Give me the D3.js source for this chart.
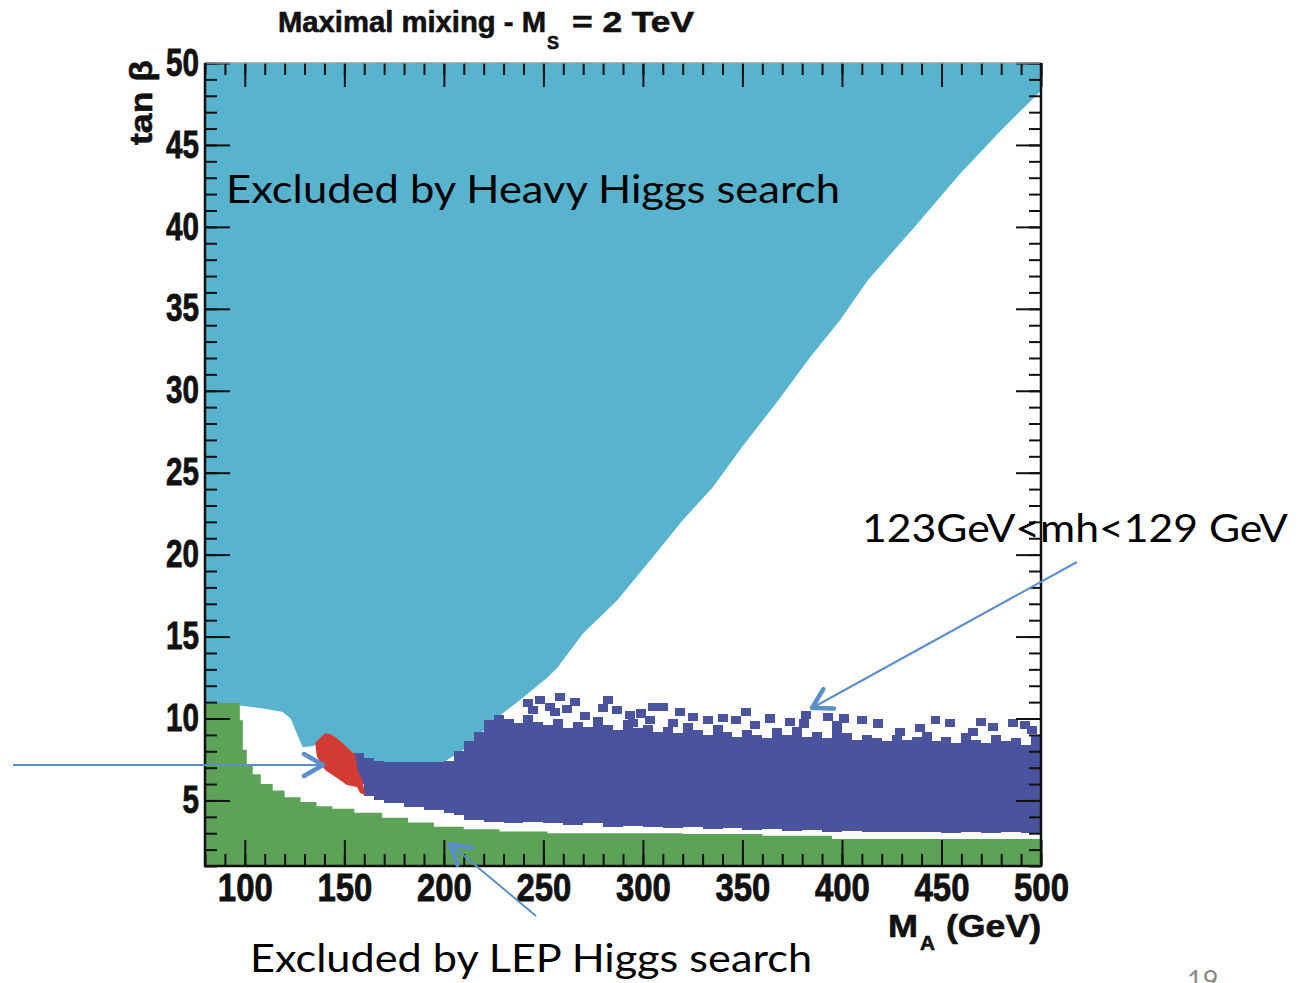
<!DOCTYPE html>
<html>
<head>
<meta charset="utf-8">
<script src="https://cdn.jsdelivr.net/npm/d3@7"></script>
<style>
body { margin: 0; background: #fff; }
</style>
</head>
<body>
<div id="chart"></div>
<script>
// lower edge of the heavy Higgs exclusion (M_A in GeV, tan beta)
const heavyMA = [80, 96, 97, 110, 119, 123, 129, 134, 140, 146, 151, 155.4, 166, 200, 212, 225, 238, 252, 257, 270, 287, 304, 320, 335, 350, 367, 384, 399, 413, 438, 459, 480, 500];
const heavyTb = [10.95, 10.95, 10.8, 10.6, 10.4, 10.0, 8.26, 8.3, 8.7, 8.8, 8.26, 7.77, 7.35, 7.35, 8.26, 9.9, 11.1, 12.5, 13.1, 15.2, 17.2, 19.7, 22.1, 24.1, 26.6, 29.25, 32.05, 34.3, 36.75, 40.2, 43.2, 45.9, 48.3];

// upper edge of the LEP exclusion
const lepMA = [80, 97, 97.5, 99, 101, 104, 108, 114, 120, 128, 136, 144, 155, 169, 182, 195, 210, 228, 252, 280, 320, 360, 395, 430, 470, 500];
const lepTb = [10.95, 10.95, 9.9, 8.1, 7.2, 6.6, 6.0, 5.6, 5.2, 4.9, 4.65, 4.5, 4.25, 3.95, 3.65, 3.4, 3.25, 3.1, 3.0, 3.0, 2.95, 2.85, 2.65, 2.65, 2.65, 2.65];

// 123 GeV < mh < 129 GeV band: upper edge (5 GeV cells)
const bandTopMA = d3.range(155, 501, 5);
const bandTop = [7.9, 7.6, 7.4, 7.35, 7.35, 7.35, 7.35, 7.35, 7.35, 7.4, 8.0, 8.6, 9.2, 9.9, 10.2,
  10.0, 9.7, 10.2, 9.8, 9.6, 10.0, 9.4, 9.8, 9.5, 10.1, 9.6, 9.3, 9.9, 9.4, 9.6,
  9.2, 9.5, 9.1, 9.7, 9.3, 9.0, 9.6, 9.2, 8.9, 9.3, 9.0, 8.8, 9.4, 9.0, 9.5,
  8.9, 9.2, 8.8, 9.5, 9.1, 8.7, 9.0, 8.8, 8.6, 9.0, 8.7, 8.9, 9.2, 8.6, 8.9,
  8.5, 9.1, 8.7, 8.5, 9.0, 8.6, 8.8, 8.4, 9.0, 8.6];
// lower edge
const bandBotMA = [155, 160, 165, 170, 180, 190, 200, 205, 210, 220, 230, 240, 250, 260, 270, 280, 290, 300, 310, 320, 330, 340, 350, 360, 370, 380, 390, 400, 410, 420, 430, 440, 450, 460, 470, 480, 490, 500];
const bandBot = [6.0, 5.3, 5.0, 4.85, 4.6, 4.4, 4.25, 4.1, 3.8, 3.7, 3.6, 3.7, 3.6, 3.5, 3.6, 3.4, 3.45, 3.35, 3.3, 3.4, 3.25, 3.3, 3.2, 3.25, 3.15, 3.2, 3.1, 3.15, 3.05, 3.1, 3.05, 3.1, 3.0, 3.05, 3.0, 3.05, 3.0, 3.0];

// scattered band points above the solid edge
const dotMA = [242.3, 248.3, 258.4, 253.4, 255.9, 271, 280, 282.5, 293.6, 295, 303.6, 305, 310, 315.2, 318.7, 332.8, 340.3, 356.4, 374, 393, 397.6, 410, 429, 439.3, 454.4, 465.9, 476, 486, 495.6,
  262, 245, 266, 287, 299, 325, 347, 364, 382, 401, 418, 447, 470, 492, 381, 352];
const dotTb = [10.95, 11.13, 11.31, 10.7, 10.4, 10.15, 10.64, 11.13, 10.2, 9.72, 9.9, 10.7, 10.7, 9.72, 10.4, 9.9, 10.03, 9.6, 9.79, 10.1, 9.6, 9.9, 9.18, 9.4, 9.72, 9.18, 9.48, 9.72, 9.3,
  10.6, 10.5, 11.0, 10.5, 10.3, 10.1, 9.9, 10.0, 10.2, 10.0, 9.7, 9.9, 9.8, 9.6, 9.7, 10.4];

// red patch
const redMA = [140.3, 135.3, 136.3, 140.3, 146.3, 151.3, 156.4, 157.9, 160.4, 158.9, 156.9, 155.4, 151.3, 146.3, 142.8];
const redTb = [9.1, 8.5, 7.65, 6.86, 6.37, 5.94, 5.82, 5.45, 5.33, 6.37, 6.7, 7.77, 8.26, 8.8, 9.05];

// ticks
const xMajor = [100, 150, 200, 250, 300, 350, 400, 450, 500];
const xMinor = d3.range(80, 501, 10);
const yMajor = [5, 10, 15, 20, 25, 30, 35, 40, 45, 50];
const yMinor = d3.range(1, 51, 1);

const W = 1308, H = 983;
const col = {
  heavy: '#58b4ce', band: '#4a539d', lep: '#5ca358', red: '#d33a34', arrow: '#5b8fcc'
};

const x = d3.scaleLinear().domain([80, 500]).range([205, 1041]);
const y = d3.scaleLinear().domain([1, 50]).range([866, 63]);

const svg = d3.select('#chart').append('svg')
  .attr('width', W)
  .attr('height', H)
  .style('font-family', 'Liberation Sans, Arial, sans-serif');

const zip = (a, b) => a.map((v, i) => [v, b[i]]);

// heavy Higgs region (from top down to edge)
svg.append('path')
  .datum(zip(heavyMA, heavyTb))
  .attr('fill', col.heavy)
  .attr('d', d3.area().x(d => x(d[0])).y0(y(50)).y1(d => y(d[1])));

// LEP region
svg.append('path')
  .datum(zip(lepMA, lepTb))
  .attr('fill', col.lep)
  .attr('d', d3.area().x(d => x(d[0])).y0(y(1)).y1(d => y(d[1])).curve(d3.curveStepAfter));

// mh band, drawn as upper and lower halves that overlap in the middle
const band = svg.append('g').attr('fill', col.band).attr('shape-rendering', 'crispEdges');
band.append('path')
  .datum(zip(bandTopMA, bandTop))
  .attr('d', d3.area().x(d => x(d[0])).y0(y(6.3)).y1(d => y(d[1])).curve(d3.curveStepAfter));
band.append('path')
  .datum(zip(bandBotMA, bandBot))
  .attr('d', d3.area().x(d => x(d[0])).y0(d => y(d[1])).y1(y(6.7)).curve(d3.curveStepAfter));
band.selectAll('rect')
  .data(zip(dotMA, dotTb))
  .join('rect')
  .attr('x', d => x(d[0] - 2.5))
  .attr('y', d => y(d[1] + 0.25))
  .attr('width', d => x(d[0] + 2.5) - x(d[0] - 2.5))
  .attr('height', d => y(d[1] - 0.25) - y(d[1] + 0.25));

// red patch
svg.append('path')
  .datum(zip(redMA, redTb))
  .attr('fill', col.red)
  .attr('d', d3.line().x(d => x(d[0])).y(d => y(d[1])).curve(d3.curveLinearClosed));

// axes, ticks pointing inward
function styleAxis(g, w) {
  g.selectAll('.tick line').attr('stroke', '#111').attr('stroke-width', w);
  g.select('.domain').remove();
}
const x0 = x.range()[0], x1 = x.range()[1], y0 = y.range()[0], y1 = y.range()[1];

const gl = svg.append('g').attr('transform', `translate(${x0},0)`)
  .call(d3.axisLeft(y).tickValues(yMajor).tickSize(-25).tickSizeOuter(0).tickPadding(6));
styleAxis(gl, 2);
gl.selectAll('text')
  .attr('font-size', 38).attr('font-weight', 'bold').attr('fill', '#111')
  .attr('stroke', '#111').attr('stroke-width', 0.8)
  .attr('textLength', d => String(d).length * 16.5).attr('lengthAdjust', 'spacingAndGlyphs');
svg.append('g').attr('transform', `translate(${x0},0)`)
  .call(d3.axisLeft(y).tickValues(yMinor).tickSize(-12).tickSizeOuter(0).tickFormat(''))
  .call(g => styleAxis(g, 2));

const gr = svg.append('g').attr('transform', `translate(${x1},0)`)
  .call(d3.axisRight(y).tickValues(yMajor).tickSize(-25).tickSizeOuter(0).tickFormat(''));
styleAxis(gr, 2);
svg.append('g').attr('transform', `translate(${x1},0)`)
  .call(d3.axisRight(y).tickValues(yMinor).tickSize(-12).tickSizeOuter(0).tickFormat(''))
  .call(g => styleAxis(g, 2));

const gb = svg.append('g').attr('transform', `translate(0,${y0})`)
  .call(d3.axisBottom(x).tickValues(xMajor).tickSize(-26).tickSizeOuter(0).tickPadding(8));
styleAxis(gb, 2);
gb.selectAll('text')
  .attr('font-size', 38).attr('font-weight', 'bold').attr('fill', '#111')
  .attr('stroke', '#111').attr('stroke-width', 0.8)
  .attr('textLength', d => String(d).length * 18.3).attr('lengthAdjust', 'spacingAndGlyphs');
svg.append('g').attr('transform', `translate(0,${y0})`)
  .call(d3.axisBottom(x).tickValues(xMinor).tickSize(-12).tickSizeOuter(0).tickFormat(''))
  .call(g => styleAxis(g, 2));

svg.append('g').attr('transform', `translate(0,${y1})`)
  .call(d3.axisTop(x).tickValues(xMajor).tickSize(-24).tickSizeOuter(0).tickFormat(''))
  .call(g => styleAxis(g, 2));
svg.append('g').attr('transform', `translate(0,${y1})`)
  .call(d3.axisTop(x).tickValues(xMinor).tickSize(-12).tickSizeOuter(0).tickFormat(''))
  .call(g => styleAxis(g, 2));

// frame
svg.append('line').attr('x1', x0).attr('x2', x1).attr('y1', y1).attr('y2', y1)
  .attr('stroke', '#999').attr('stroke-width', 1.5);
svg.append('path')
  .attr('d', `M${x0},${y1}V${y0}H${x1}V${y1}`)
  .attr('fill', 'none').attr('stroke', '#111').attr('stroke-width', 2.5);

// titles
const title = svg.append('g').attr('font-weight', 'bold').attr('fill', '#111')
  .attr('stroke', '#111').attr('stroke-width', 0.6);
title.append('text').attr('x', 278).attr('y', 32).attr('font-size', 29)
  .attr('textLength', 268).attr('lengthAdjust', 'spacingAndGlyphs').text('Maximal mixing - M');
title.append('text').attr('x', 547).attr('y', 49).attr('font-size', 19)
  .attr('textLength', 12).attr('lengthAdjust', 'spacingAndGlyphs').text('S');
title.append('text').attr('x', 572).attr('y', 32).attr('font-size', 29)
  .attr('textLength', 122).attr('lengthAdjust', 'spacingAndGlyphs').text('= 2 TeV');

svg.append('text')
  .attr('transform', 'translate(152,145) rotate(-90)')
  .attr('font-size', 31).attr('font-weight', 'bold').attr('fill', '#111')
  .attr('stroke', '#111').attr('stroke-width', 0.6)
  .attr('textLength', 85).attr('lengthAdjust', 'spacingAndGlyphs')
  .text('tan β');

const xt = svg.append('g').attr('font-weight', 'bold').attr('fill', '#111')
  .attr('stroke', '#111').attr('stroke-width', 0.6);
xt.append('text').attr('x', 888).attr('y', 937).attr('font-size', 32)
  .attr('textLength', 30).attr('lengthAdjust', 'spacingAndGlyphs').text('M');
xt.append('text').attr('x', 920).attr('y', 950).attr('font-size', 20)
  .attr('textLength', 15).attr('lengthAdjust', 'spacingAndGlyphs').text('A');
xt.append('text').attr('x', 946).attr('y', 937).attr('font-size', 32)
  .attr('textLength', 95).attr('lengthAdjust', 'spacingAndGlyphs').text('(GeV)');

// annotations
const ann = svg.append('g').style('font-family', 'Lato, Open Sans, sans-serif').attr('fill', '#000');
ann.append('text').attr('x', 226).attr('y', 203).attr('font-size', 38)
  .attr('textLength', 614).attr('lengthAdjust', 'spacingAndGlyphs').text('Excluded by Heavy Higgs search');
ann.append('text').attr('x', 862).attr('y', 542).attr('font-size', 39)
  .attr('textLength', 426).attr('lengthAdjust', 'spacingAndGlyphs').text('123GeV<mh<129 GeV');
ann.append('text').attr('x', 250).attr('y', 972).attr('font-size', 38)
  .attr('textLength', 562).attr('lengthAdjust', 'spacingAndGlyphs').text('Excluded by LEP Higgs search');
ann.append('text').attr('x', 1187).attr('y', 990).attr('font-size', 27).attr('fill', '#8a8a8a')
  .text('19');

// arrows
svg.append('defs').append('marker')
  .attr('id', 'chev')
  .attr('markerUnits', 'userSpaceOnUse')
  .attr('viewBox', '-24 -14 28 28')
  .attr('refX', 0).attr('refY', 0)
  .attr('markerWidth', 28).attr('markerHeight', 28)
  .attr('orient', 'auto')
  .append('path')
  .attr('d', 'M-19,-11 L0,0 L-19,11')
  .attr('fill', 'none')
  .attr('stroke', col.arrow)
  .attr('stroke-width', 4.5)
  .attr('stroke-linecap', 'round')
  .attr('stroke-linejoin', 'round');

const arrows = [
  [13, 765, 323, 765],
  [1077, 562, 812, 708],
  [536, 916, 450, 844]
];
svg.append('g').selectAll('line')
  .data(arrows)
  .join('line')
  .attr('x1', d => d[0]).attr('y1', d => d[1])
  .attr('x2', d => d[2]).attr('y2', d => d[3])
  .attr('stroke', col.arrow)
  .attr('stroke-width', 2)
  .attr('marker-end', 'url(#chev)');
</script>
</body>
</html>
